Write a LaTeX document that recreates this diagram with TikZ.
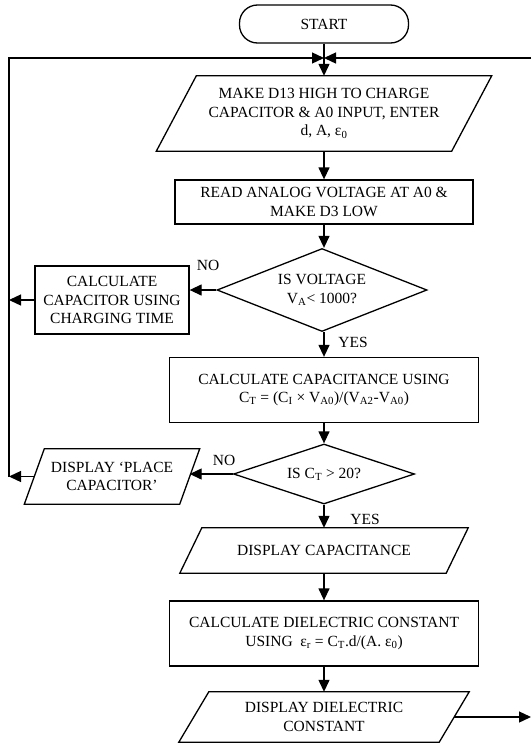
\documentclass[tikz,border=0pt]{standalone}
\usepackage{fontspec}
\setmainfont{Liberation Serif}
\usetikzlibrary{positioning,shapes.geometric,arrows.meta}

% parallelogram outline round a named node: node, half slant
\newcommand{\slantbox}[2]{\draw[outline] ([xshift=#2]#1.north west) -- ([xshift=#2]#1.north east) -- ([xshift=-#2]#1.south east) -- ([xshift=-#2]#1.south west) -- cycle;}

\begin{document}
\begin{tikzpicture}[
    x=1pt, y=1pt,
    every node/.style={font=\fontsize{15.5pt}{18.5pt}\selectfont},
    outline/.style={line width=1.3pt, line join=miter},
    terminal/.style={draw, outline, rounded corners=18pt, minimum width=169pt, minimum height=38pt},
    process/.style={draw, outline, align=center, inner sep=3pt},
    io/.style={align=center, inner sep=3pt},
    decision/.style={draw, outline, diamond, align=center, inner sep=0pt},
    lbl/.style={inner sep=1pt},
    arrow/.style={-{Triangle[length=12pt,width=11pt]}, line width=1.3pt}
]

\useasboundingbox (0,0) rectangle (531,-744);

% Main column
\node[terminal] (start) at (324,-24) {START};
\node[io, minimum width=295pt, minimum height=75pt] (make) at (324,-113.5) {MAKE D13 HIGH TO CHARGE\\CAPACITOR \& A0 INPUT, ENTER\\d, A, ε\textsubscript{0}};
\node[process, minimum width=298pt, minimum height=44pt] (read) at (324,-202) {READ ANALOG VOLTAGE AT A0 \&\\MAKE D3 LOW};
\node[decision, minimum width=210pt, minimum height=83pt, aspect=2.5] (isv) at (322,-290) {IS VOLTAGE\\V\textsubscript{A}< 1000?};
\node[process, minimum width=309pt, minimum height=65pt] (calccap) at (324,-390) {CALCULATE CAPACITANCE USING\\C\textsubscript{T} = (C\textsubscript{I} × V\textsubscript{A0})/(V\textsubscript{A2}-V\textsubscript{A0})};
\node[decision, minimum width=181pt, minimum height=60pt, aspect=3] (isct) at (324,-474) {IS C\textsubscript{T} > 20?};
\node[io, minimum width=266pt, minimum height=45pt] (dispcap) at (324,-550.5) {DISPLAY CAPACITANCE};
\node[process, minimum width=309pt, minimum height=65pt] (calcdiel) at (324,-633.5) {CALCULATE DIELECTRIC CONSTANT\\USING~ ε\textsubscript{r} = C\textsubscript{T}.d/(A. ε\textsubscript{0})};
\node[io, minimum width=260pt, minimum height=50pt] (dispdiel) at (324,-717) {DISPLAY DIELECTRIC\\CONSTANT};

% Side branches
\node[process, minimum width=154pt, minimum height=68pt] (calc) at (112,-300) {CALCULATE\\CAPACITOR USING\\CHARGING TIME};
\node[io, minimum width=155pt, minimum height=55pt] (place) at (112,-476.5) {DISPLAY ‘PLACE\\CAPACITOR’};

% Parallelograms
\slantbox{make}{20pt}
\slantbox{place}{10pt}
\slantbox{dispcap}{11pt}
\slantbox{dispdiel}{15pt}

% Labels
\node[lbl] (no1) at (208,-265) {NO};
\node[lbl] (yes1) at (353,-342) {YES};
\node[lbl] (no2) at (224,-460) {NO};
\node[lbl] (yes2) at (365,-519) {YES};

% Loop points
\coordinate (join) at (324,-58);
\coordinate (lefttop) at (9,-58);
\coordinate (righttop) at (531,-58);

% Flow
\draw[arrow] (start) -- (make);
\draw[arrow] (make) -- (read);
\draw[arrow] (read) -- (read |- isv.north);
\draw[arrow] (isv.south -| calccap) -- (calccap);
\draw[arrow] (calccap) -- (isct);
\draw[arrow] (isct) -- (dispcap);
\draw[arrow] (dispcap) -- (calcdiel);
\draw[arrow] (calcdiel) -- (dispdiel);

% Branches and loop back
\draw[arrow] (isv.west) -- (isv.west -| calc.east);
\draw[arrow] (calc.west) -- (calc.west -| lefttop);
\draw[arrow] (isct.west) -- (isct.west -| place.east);
\draw[arrow] (place.west) -- (place.west -| lefttop);
\draw[arrow] (place.west -| lefttop) -- (lefttop) -- (join);
\draw[arrow] (righttop) -- (join);
\draw[arrow] (dispdiel.east) -- (dispdiel.east -| righttop);

\end{tikzpicture}
\end{document}
